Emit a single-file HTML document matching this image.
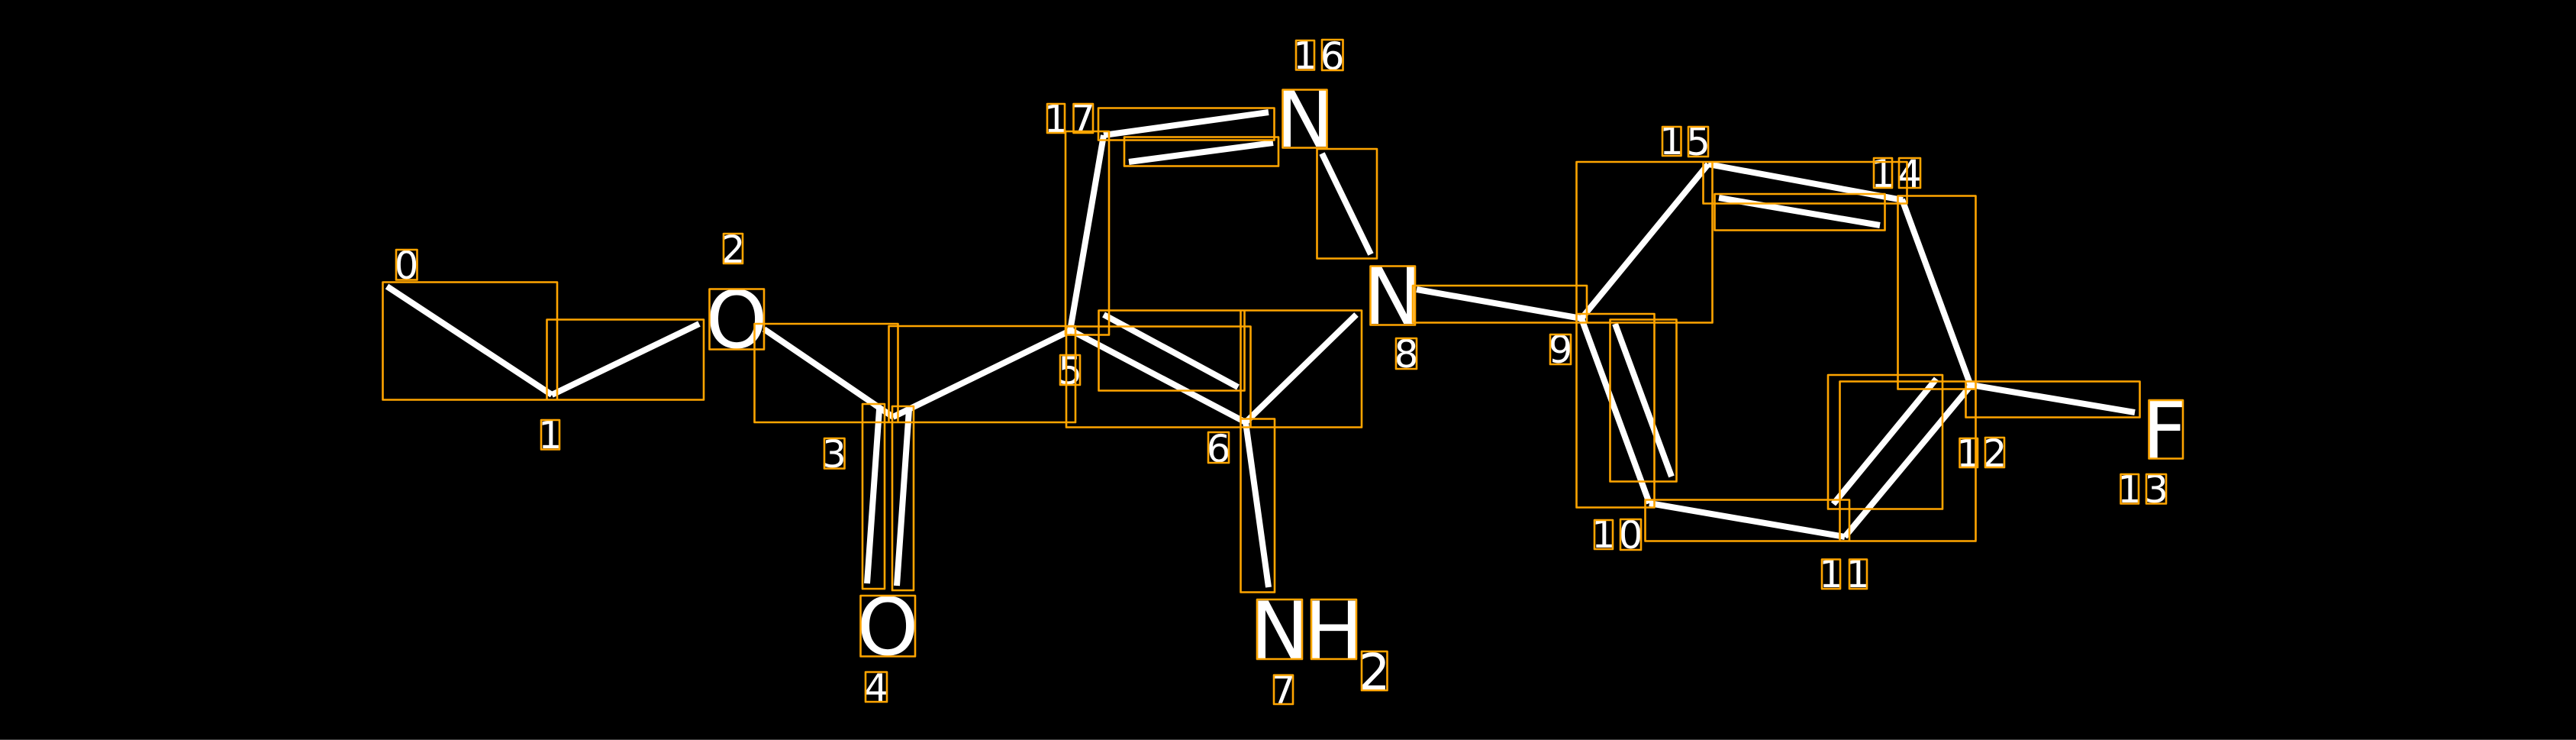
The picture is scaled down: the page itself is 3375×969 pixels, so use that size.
<!DOCTYPE html>
<html><head><meta charset="utf-8"><title>Molecule</title>
<style>html,body{margin:0;padding:0;background:#000;width:3375px;height:969px;overflow:hidden}svg{display:block}
text{font-family:"DejaVu Sans",sans-serif;fill:#fff;text-anchor:middle}</style></head>
<body>
<svg width="3375" height="969" viewBox="0 0 3375 969" xmlns="http://www.w3.org/2000/svg">
<rect width="3375" height="969" fill="#000"/>
<rect y="968" width="3375" height="1" fill="#444"/>
<path fill="none" stroke="#fff" stroke-width="8" d="M507 375L723 517M723 517L916 424M1001 431L1170 546M1170 546L1402 433M1152 536L1136 764M1191 536L1175 767M1402 432L1632 553M1446 412L1622 507M1632 553L1777 412M1632 553L1662 769M1856 379L2072 417M2072 417L2161 659M2116 424L2190 624M2161 659L2417 703M2417 703L2582 505M2402 660L2537 496M2582 504L2797 540M2582 505L2492 261M2493 262L2238 215M2463 295L2252 259M2238 215L2072 417M1402 433L1446 177M1446 177L1662 147M1479 212L1668 187M1732 201L1796 333"/>
<text font-size="103" x="965 1163 1709.5 1824.5 1676.5 1747.5 2836" y="455 857 192 424 862 862 600">OONNNHF</text>
<text font-size="66" x="1800.5" y="903">2</text>
<text font-size="50" x="532.5 721 960.5 1093 1148 1402 1596.5 1681.5 1842.5 2044.5 2101 2136.5 2399 2434 2579 2613.5 2790 2825 2467 2502 2190 2225 1710 1745.5 1383.5 1419" y="365 587 344 612 918 503 605 921 481 475 717 718 769 769 611 611 658 658 245 245 202 203 90 91 173 173">01234567891011121314151617</text>
<path fill="none" stroke="#FFA500" stroke-width="2.6" stroke-linejoin="round" d="M501.5 369.5h228.5v154h-228.5zM716.5 418.5h205.5v105h-205.5zM988.5 424h188v129h-188zM1164.5 427h244.5v126h-244.5zM1130 529h29v242h-29zM1169 532h28v241h-28zM1396 172h57v266.5h-57zM1397 427.5h241.5v132h-241.5zM1439.5 406.5h191v105h-191zM1625.5 406.5h158.5v153h-158.5zM1625.5 548.5h44.5v227h-44.5zM1439 141.5h230.5v42h-230.5zM1473 179.5h202v38h-202zM1725.5 195h78.5v143.5h-78.5zM1851 374h228v48.5h-228zM2065.5 411h102v253.5h-102zM2109.5 418.5h87v212h-87zM2155.5 654.5h267.5v54h-267.5zM2410.5 499.5h178v209h-178zM2395 491h150v175.5h-150zM2575.5 499.5h228v47h-228zM2486.5 256.5h102v253h-102zM2231.5 212h267v54.5h-267zM2246.5 254h223v47.5h-223zM2065.5 212h178v210.5h-178zM929.5 378.5h71.5v79h-71.5zM1127.5 780h71.5v79.5h-71.5zM1680.5 117.5h58v76h-58zM1795.5 348.5h58.5v77h-58.5zM1647 785h59v78h-59zM1718 785h59v78h-59zM1784 853h33.5v51h-33.5zM2815.5 524h44.5v76.5h-44.5zM519 327h27.5v39.5h-27.5zM709 550h24v38.5h-24zM948 306h25v39h-25zM1080 574h26.5v39.5h-26.5zM1134 880h28v39h-28zM1389 465h26v39h-26zM1583 566h27v40h-27zM1669 884h25v38h-25zM1829 443h27v40h-27zM2031 438h27v39h-27zM2089 681h24v38h-24zM2123 680h27v40h-27zM2387 732.5h24v38.5h-24zM2423 732.5h23v38.5h-23zM2567.5 574h23.5v38h-23.5zM2601 573h25v39h-25zM2778.5 621h23.5v38.5h-23.5zM2812 621h26v38.5h-26zM2455 207h24v39h-24zM2488 207h28v39h-28zM2178 166h24.5v38h-24.5zM2212 166h26v39h-26zM1698 53h24v38.5h-24zM1732 52h27.5v40h-27.5zM1372 136h23v38h-23zM1406.5 136h25.5v38h-25.5z"/>
</svg>
</body></html>
